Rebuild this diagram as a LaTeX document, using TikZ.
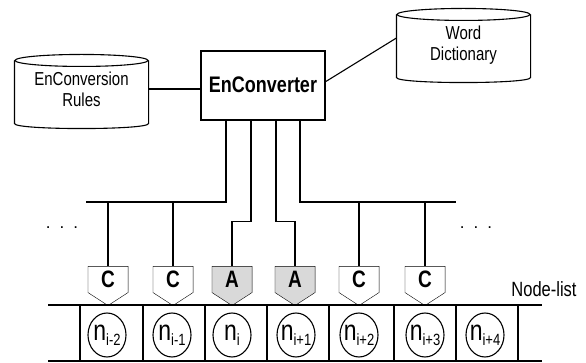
\documentclass[tikz,border=0pt]{standalone}
\usepackage{fontspec}
\setmainfont{Liberation Sans}
\usepackage{graphicx}
\usetikzlibrary{shapes.geometric,backgrounds}
\newcommand\tall[1]{\scalebox{1}[1.25]{#1}}
\newcommand\nn[1]{\tall{\fontsize{23}{23}\selectfont n\raisebox{-4pt}{\fontsize{13}{13}\selectfont #1}}}
\newcommand\drawcyl[1]{%
  \draw (#1.north west) -- (#1.south west) .. controls +(0,6.67) and +(0,6.67) .. (#1.south east) -- (#1.north east);
  \draw (#1.north) ellipse [x radius=66.5pt, y radius=6pt];}
\newcommand\pent[2]{\draw[fill=#1] (#2.north west) -- (#2.north east) -- (#2.south east) -- ([yshift=-13pt]#2.south) -- (#2.south west) -- cycle;}
\begin{document}
\begin{tikzpicture}[x=1pt,y=-1pt, line width=1.1pt,
  cyl/.style={minimum width=133pt, minimum height=62pt, inner sep=0pt},
  convbox/.style={draw, line width=1.7pt, minimum width=124pt, minimum height=69pt, inner sep=0pt},
  tag/.style={minimum width=39pt, minimum height=25pt, inner sep=0pt, font=\fontsize{19}{20}\selectfont\bfseries},
  cell/.style={ellipse, draw, minimum width=38pt, minimum height=44pt, inner sep=0pt},
  txt/.style={inner sep=0pt},
]
\useasboundingbox (0,0) rectangle (586,363);

% databases
\node[cyl] (rules) at (81.5,92) {\tall{\fontsize{15}{17}\selectfont\begin{tabular}{@{}c@{}}EnConversion\\Rules\end{tabular}}};
\drawcyl{rules}
\node[cyl] (dict) at (463.5,46) {\tall{\fontsize{15}{17}\selectfont\begin{tabular}{@{}c@{}}Word\\Dictionary\end{tabular}}};
\drawcyl{dict}

% EnConverter
\node[convbox] (conv) at (263,85.5) {\raisebox{2pt}{\tall{\fontsize{18}{20}\selectfont\bfseries EnConverter}}};
\draw ([yshift=3pt]rules.east) -- ([yshift=3pt]rules.east -| conv.west);
\draw ([yshift=4pt]conv.east) -- ([yshift=8pt]dict.west);

% tags
\node[tag] (t1) at (108,279.5) {\tall{C}};
\node[tag] (t2) at (173,279.5) {\tall{C}};
\node[tag] (t3) at (232,279.5) {\tall{A}};
\node[tag] (t4) at (295,279.5) {\tall{A}};
\node[tag] (t5) at (359,279.5) {\tall{C}};
\node[tag] (t6) at (425,279.5) {\tall{C}};
\begin{scope}[on background layer]
\pent{white}{t1}\pent{white}{t2}\pent{gray!30}{t3}\pent{gray!30}{t4}\pent{white}{t5}\pent{white}{t6}
\end{scope}

% buses
\coordinate (busL) at (86,202);
\coordinate (busR) at (456,202);
\draw ([xshift=-37pt]conv.south) |- (busL);
\draw ([xshift=37pt]conv.south) |- (busR);
\draw ([xshift=-12pt]conv.south) -- ++(0,101) -| (t3.north);
\draw ([xshift=13pt]conv.south) -- ++(0,101) -| (t4.north);
\draw (t1.north |- busL) -- (t1.north);
\draw (t2.north |- busL) -- (t2.north);
\draw (t5.north |- busR) -- (t5.north);
\draw (t6.north |- busR) -- (t6.north);

% dots
\node[txt, font=\fontsize{17}{17}\selectfont] (dotsL) at (62,228) {.\hspace{9pt}.\hspace{9pt}.};
\node[txt, font=\fontsize{17}{17}\selectfont] (dotsR) at (476,228) {.\hspace{9pt}.\hspace{9pt}.};

% node list
\draw (48,305) -- (542,305);
\draw (48,361) -- (542,361);
\foreach \x in {80,143,205,267,329,394,456,518} \draw (\x,305) -- (\x,361);
\node[txt] (nl) at (544,289) {\tall{\fontsize{16.5}{18}\selectfont Node-list}};

\node[cell, label={center:\nn{i-2}}] (c1) at (107,335) {};
\node[cell, label={center:\nn{i-1}}] (c2) at (172,335) {};
\node[cell, label={center:\nn{i}}] (c3) at (232,335) {};
\node[cell, label={center:\nn{i+1}}] (c4) at (296,335) {};
\node[cell, label={center:\nn{i+2}}] (c5) at (359,335) {};
\node[cell, label={center:\nn{i+3}}] (c6) at (425,335) {};
\node[cell, label={center:\nn{i+4}}] (c7) at (485,335) {};
\end{tikzpicture}
\end{document}
